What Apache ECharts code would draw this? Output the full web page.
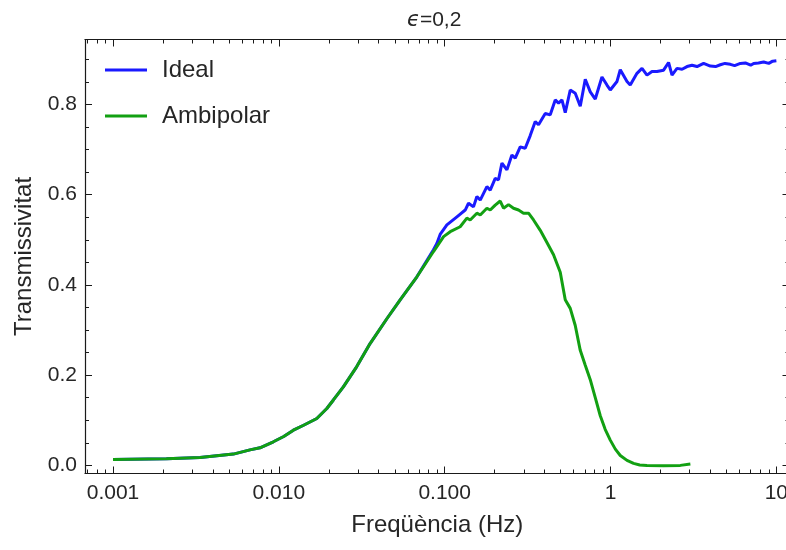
<!DOCTYPE html>
<html><head><meta charset="utf-8">
<script src="https://cdn.jsdelivr.net/npm/echarts@6/dist/echarts.min.js"></script>
<style>html,body{margin:0;padding:0;background:#fff}#c{width:786px;height:550px}</style>
</head><body><div id="c"></div>
<script>
// ---- data ----
const commonFreq = [0.001, 0.0021, 0.00335, 0.00532, 0.0067, 0.0077, 0.00927, 0.0107, 0.01224, 0.0141, 0.01616, 0.01694, 0.01947, 0.02133, 0.02449, 0.0295, 0.0355, 0.0448, 0.0539, 0.068];
const commonVal  = [0.0133, 0.0146, 0.0177, 0.025, 0.0344, 0.039, 0.0523, 0.064, 0.078, 0.089, 0.100, 0.104, 0.126, 0.145, 0.174, 0.219, 0.270, 0.325, 0.367, 0.418];

const idealFreq = [0.0818, 0.0856, 0.0897, 0.0939, 0.1031, 0.1185, 0.133, 0.1392, 0.1492, 0.1564, 0.1638, 0.1797, 0.1882, 0.2017, 0.2112, 0.2214, 0.2373, 0.2543, 0.2663, 0.2854, 0.3059, 0.328, 0.3516, 0.3681, 0.404, 0.433, 0.4642, 0.486, 0.5094, 0.5333, 0.5717, 0.6128, 0.6569, 0.7042, 0.7548, 0.8091, 0.8878, 0.9519, 0.9965, 1.094, 1.145, 1.257, 1.315, 1.444, 1.548, 1.659, 1.778, 1.906, 2.089, 2.239, 2.348, 2.517, 2.7, 2.892, 3.1, 3.323, 3.642, 3.998, 4.3, 4.593, 4.9, 5.279, 5.6, 6.066, 6.5, 7.0, 7.295, 7.8, 8.383, 9.0, 9.5, 10];
const idealVal  = [0.466, 0.478, 0.492, 0.512, 0.533, 0.551, 0.566, 0.581, 0.573, 0.596, 0.588, 0.618, 0.610, 0.636, 0.633, 0.670, 0.655, 0.688, 0.681, 0.706, 0.703, 0.731, 0.762, 0.755, 0.780, 0.777, 0.810, 0.803, 0.810, 0.782, 0.832, 0.825, 0.796, 0.856, 0.828, 0.812, 0.861, 0.843, 0.832, 0.851, 0.877, 0.851, 0.843, 0.869, 0.880, 0.865, 0.873, 0.873, 0.876, 0.893, 0.865, 0.880, 0.878, 0.884, 0.887, 0.884, 0.891, 0.885, 0.884, 0.888, 0.891, 0.889, 0.886, 0.891, 0.892, 0.887, 0.891, 0.892, 0.894, 0.891, 0.896, 0.897];

const ambiFreq = [0.0818, 0.0856, 0.0985, 0.108, 0.124, 0.1361, 0.1425, 0.1564, 0.1638, 0.1797, 0.1882, 0.2017, 0.2162, 0.2264, 0.2426, 0.2601, 0.2788, 0.2988, 0.3203, 0.3434, 0.377, 0.4136, 0.4533, 0.4976, 0.5333, 0.5717, 0.6128, 0.6569, 0.7042, 0.7548, 0.8091, 0.8674, 0.9283, 0.9965, 1.069, 1.145, 1.257, 1.377, 1.5, 1.659, 2.089, 2.636, 3.03];
const ambiVal  = [0.463, 0.474, 0.507, 0.518, 0.529, 0.548, 0.544, 0.559, 0.555, 0.570, 0.566, 0.577, 0.586, 0.570, 0.578, 0.570, 0.566, 0.559, 0.559, 0.544, 0.521, 0.494, 0.467, 0.428, 0.367, 0.348, 0.310, 0.255, 0.222, 0.190, 0.150, 0.110, 0.080, 0.056, 0.036, 0.022, 0.011, 0.0044, 0.001, 0.0, -0.001, 0.0, 0.003];

const seriesNames = ['Ideal', 'Ambipolar'];
const titleText = '{i|ϵ}=0,2';
const xName = 'Freqüència (Hz)';
const yName = 'Transmissivitat';

const xMajorTicks = [0.001, 0.01, 0.1, 1, 10];
const xTickLabels = ['0.001', '0.010', '0.100', '1', '10'];
const xMinorTicks = [0.0007, 0.0008, 0.0009,
  0.002, 0.003, 0.004, 0.005, 0.006, 0.007, 0.008, 0.009,
  0.02, 0.03, 0.04, 0.05, 0.06, 0.07, 0.08, 0.09,
  0.2, 0.3, 0.4, 0.5, 0.6, 0.7, 0.8, 0.9,
  2, 3, 4, 5, 6, 7, 8, 9];
const yMajorTicks = [0, 0.2, 0.4, 0.6, 0.8];
const yTickLabels = ['0.0', '0.2', '0.4', '0.6', '0.8'];
const yMinorTicks = [0.05, 0.1, 0.15, 0.25, 0.3, 0.35, 0.45, 0.5, 0.55, 0.65, 0.7, 0.75, 0.85, 0.9];

const xRange = [0.000678, 12.0];
const yRange = [-0.018, 0.944];

// ---- chart ----
const FONT = '"Liberation Sans", Arial, sans-serif';
const TXT = '#262626';
const FRAME = '#1a1a1a';
const BLUE = '#1a1aff';
const GREEN = '#12a012';

function zip(a, b) { return a.map((v, i) => [v, b[i]]); }
const idealData = zip(commonFreq, commonVal).concat(zip(idealFreq, idealVal));
const ambiData = zip(commonFreq, commonVal).concat(zip(ambiFreq, ambiVal));

function xLabel(v) {
  for (let i = 0; i < xMajorTicks.length; i++) {
    if (Math.abs(v - xMajorTicks[i]) < xMajorTicks[i] * 1e-6) return xTickLabels[i];
  }
  return '';
}
function yLabel(v) {
  for (let i = 0; i < yMajorTicks.length; i++) {
    if (Math.abs(v - yMajorTicks[i]) < 1e-6) return yTickLabels[i];
  }
  return '';
}

function xAxisDef(position, ticks, len, showLine, withLabels) {
  const ax = {
    type: 'log', logBase: 10, gridIndex: 0, position: position,
    min: xRange[0], max: xRange[1],
    axisLine: { show: showLine, onZero: false, lineStyle: { color: FRAME, width: 1.2 } },
    axisTick: { show: true, inside: true, length: len, customValues: ticks, lineStyle: { color: FRAME, width: 1 } },
    axisLabel: { show: false },
    splitLine: { show: false }, minorTick: { show: false }, minorSplitLine: { show: false }
  };
  if (withLabels) {
    ax.axisLabel = { show: true, customValues: xMajorTicks, formatter: xLabel, margin: 9,
      fontSize: 21, color: TXT, fontFamily: FONT };
    ax.name = xName; ax.nameLocation = 'middle'; ax.nameGap = 40;
    ax.nameTextStyle = { fontSize: 24, color: TXT, fontFamily: FONT };
  }
  return ax;
}
function yAxisDef(position, ticks, len, showLine, withLabels) {
  const ax = {
    type: 'value', gridIndex: 0, position: position,
    min: yRange[0], max: yRange[1],
    axisLine: { show: showLine, onZero: false, lineStyle: { color: FRAME, width: 1.2 } },
    axisTick: { show: true, inside: true, length: len, customValues: ticks, lineStyle: { color: FRAME, width: 1 } },
    axisLabel: { show: false },
    splitLine: { show: false }, minorTick: { show: false }, minorSplitLine: { show: false }
  };
  if (withLabels) {
    ax.axisLabel = { show: true, customValues: yMajorTicks, formatter: yLabel, margin: 8,
      fontSize: 21, color: TXT, fontFamily: FONT };
    ax.name = yName; ax.nameLocation = 'middle'; ax.nameGap = 49;
    ax.nameTextStyle = { fontSize: 24, color: TXT, fontFamily: FONT };
  }
  return ax;
}

const chart = echarts.init(document.getElementById('c'), null, { renderer: 'canvas' });
chart.setOption({
  animation: false,
  backgroundColor: '#fff',
  title: {
    text: titleText, left: 402, top: 5,
    textStyle: { fontSize: 21, fontWeight: 'normal', color: TXT, fontFamily: FONT,
      rich: { i: { fontStyle: 'italic', fontSize: 21, color: TXT, fontFamily: '"DejaVu Sans", sans-serif' } } }
  },
  legend: {
    orient: 'vertical', left: 105, top: 58, padding: 0, itemGap: 22,
    icon: 'rect', itemWidth: 42, itemHeight: 3,
    textStyle: { fontSize: 24, color: TXT, fontFamily: FONT, padding: [0, 0, 0, 10] },
    data: seriesNames
  },
  grid: { left: 85, top: 39.5, width: 704.5, height: 434, containLabel: false, outerBoundsMode: 'none' },
  xAxis: [
    xAxisDef('bottom', xMajorTicks, 7, true, true),
    xAxisDef('bottom', xMinorTicks, 4, false, false),
    xAxisDef('top', xMajorTicks, 7, true, false),
    xAxisDef('top', xMinorTicks, 4, false, false)
  ],
  yAxis: [
    yAxisDef('left', yMajorTicks, 7, true, true),
    yAxisDef('left', yMinorTicks, 4, false, false),
    yAxisDef('right', yMajorTicks, 7, true, false),
    yAxisDef('right', yMinorTicks, 4, false, false)
  ],
  series: [
    { name: seriesNames[0], type: 'line', xAxisIndex: 0, yAxisIndex: 0, data: idealData,
      showSymbol: false, symbol: 'none', color: BLUE, lineStyle: { color: BLUE, width: 3 }, z: 2 },
    { name: seriesNames[1], type: 'line', xAxisIndex: 0, yAxisIndex: 0, data: ambiData,
      showSymbol: false, symbol: 'none', color: GREEN, lineStyle: { color: GREEN, width: 3 }, z: 3 }
  ]
});
</script>
</body></html>
